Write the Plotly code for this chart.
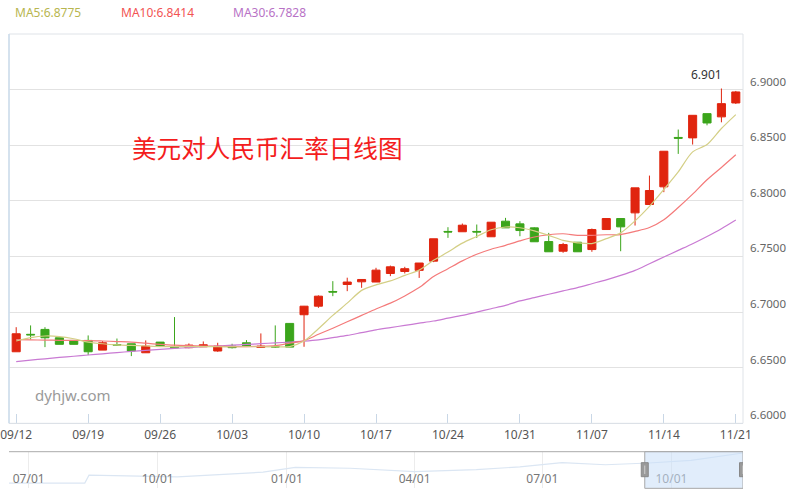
import plotly.graph_objects as go

# ---------------- data ----------------
tick_labels = ['09/12', '09/19', '09/26', '10/03', '10/10', '10/17', '10/24',
               '10/31', '11/07', '11/14', '11/21']

open_ = [6.6643, 6.6800, 6.6844, 6.6769, 6.6745, 6.6745, 6.6658, 6.6708, 6.6715, 6.6634,
         6.6730, 6.6688, 6.6680, 6.6688, 6.6650, 6.6694, 6.6724, 6.6682, 6.6690, 6.6898,
         6.6976, 6.7053, 6.7185, 6.7248, 6.7272, 6.7270, 6.7347, 6.7365, 6.7375, 6.7458,
         6.7725, 6.7722, 6.7725, 6.7677, 6.7817, 6.7793, 6.7757, 6.7634, 6.7547, 6.7628,
         6.7562, 6.7742, 6.7841, 6.7892, 6.7967, 6.8126, 6.8570, 6.8566, 6.8784, 6.8755,
         6.8880]
high = [6.6864, 6.6880, 6.6864, 6.6769, 6.6745, 6.6790, 6.6740, 6.6762, 6.6715, 6.6745,
        6.6730, 6.6955, 6.6718, 6.6736, 6.6724, 6.6715, 6.6748, 6.6808, 6.6880, 6.6900,
        6.7055, 6.7150, 6.7278, 6.7309, 6.7295, 6.7398, 6.7418, 6.7407, 6.7441, 6.7659,
        6.7763, 6.7796, 6.7787, 6.7808, 6.7847, 6.7817, 6.7762, 6.7712, 6.7622, 6.7628,
        6.7751, 6.7841, 6.7841, 6.8117, 6.8227, 6.8446, 6.8641, 6.8769, 6.8784, 6.9010,
        6.8988]
low = [6.6643, 6.6754, 6.6685, 6.6710, 6.6709, 6.6613, 6.6658, 6.6700, 6.6604, 6.6634,
       6.6694, 6.6675, 6.6675, 6.6688, 6.6643, 6.6673, 6.6694, 6.6680, 6.6680, 6.6685,
       6.6688, 6.7038, 6.7143, 6.7188, 6.7218, 6.7270, 6.7323, 6.7347, 6.7307, 6.7449,
       6.7667, 6.7722, 6.7667, 6.7677, 6.7757, 6.7682, 6.7632, 6.7542, 6.7533, 6.7542,
       6.7542, 6.7742, 6.7547, 6.7778, 6.7967, 6.8078, 6.8422, 6.8506, 6.8679, 6.8706,
       6.8871]
close = [6.6805, 6.6795, 6.6769, 6.6710, 6.6710, 6.6643, 6.6724, 6.6704, 6.6650, 6.6694,
         6.6694, 6.6680, 6.6703, 6.6706, 6.6694, 6.6680, 6.6694, 6.6694, 6.6686, 6.6685,
         6.7053, 6.7143, 6.7180, 6.7270, 6.7293, 6.7377, 6.7407, 6.7390, 6.7441, 6.7659,
         6.7720, 6.7781, 6.7720, 6.7808, 6.7757, 6.7733, 6.7632, 6.7542, 6.7607, 6.7542,
         6.7742, 6.7841, 6.7766, 6.8117, 6.8093, 6.8446, 6.8563, 6.8769, 6.8700, 6.8874,
         6.8979]

ma5 = [6.6740, 6.6770, 6.6785, 6.6780, 6.6760, 6.6730, 6.6715, 6.6705, 6.6700, 6.6695,
       6.6690, 6.6690, 6.6690, 6.6690, 6.6688, 6.6688, 6.6688, 6.6688, 6.6688, 6.6690,
       6.6739, 6.6850, 6.6970, 6.7080, 6.7195, 6.7245, 6.7280, 6.7330, 6.7377, 6.7465,
       6.7540, 6.7620, 6.7680, 6.7740, 6.7765, 6.7758, 6.7730, 6.7690, 6.7645, 6.7623,
       6.7616, 6.7660, 6.7712, 6.7820, 6.7950, 6.8102, 6.8260, 6.8440, 6.8506, 6.8650,
       6.8775]
ma10 = [6.6752, 6.6750, 6.6748, 6.6746, 6.6745, 6.6744, 6.6740, 6.6735, 6.6730, 6.6720,
        6.6710, 6.6702, 6.6698, 6.6695, 6.6692, 6.6690, 6.6690, 6.6692, 6.6698, 6.6720,
        6.6743, 6.6800, 6.6855, 6.6913, 6.6970, 6.7028, 6.7080, 6.7145, 6.7220, 6.7320,
        6.7390, 6.7460, 6.7520, 6.7565, 6.7600, 6.7640, 6.7675, 6.7695, 6.7704, 6.7690,
        6.7690, 6.7695, 6.7697, 6.7725, 6.7760, 6.7830, 6.7940, 6.8060, 6.8190, 6.8300,
        6.8414]
ma30 = [6.6555, 6.6568, 6.6580, 6.6592, 6.6603, 6.6614, 6.6625, 6.6636, 6.6646, 6.6656,
        6.6665, 6.6673, 6.6681, 6.6688, 6.6695, 6.6702, 6.6709, 6.6716, 6.6723, 6.6730,
        6.6738, 6.6750, 6.6770, 6.6790, 6.6815, 6.6840, 6.6860, 6.6880, 6.6900, 6.6920,
        6.6945, 6.6970, 6.7000, 6.7030, 6.7060, 6.7100, 6.7130, 6.7160, 6.7190, 6.7220,
        6.7255, 6.7290, 6.7330, 6.7375, 6.7435, 6.7495, 6.7555, 6.7615, 6.7680, 6.7750,
        6.7828]

y_ticks = [6.60, 6.65, 6.70, 6.75, 6.80, 6.85, 6.90]

# navigator (overview) series
nav_dates = ['2015-06-17', '2015-08-10', '2015-08-13', '2015-10-15', '2015-12-15',
             '2016-01-07', '2016-02-15', '2016-04-01', '2016-05-15', '2016-06-15',
             '2016-07-15', '2016-08-15', '2016-09-15', '2016-10-15', '2016-11-21']
nav_values = [6.21, 6.21, 6.39, 6.35, 6.46, 6.57, 6.55, 6.47, 6.52, 6.58,
              6.68, 6.63, 6.67, 6.73, 6.90]
window_start = '2016-09-12'
window_end = '2016-11-21'

title_text = '美元对人民币汇率日线图'
watermark = 'dyhjw.com'

# ---------------- styles ----------------
RED = '#e0250f'
GREEN = '#3ba51b'
FONT = 'Noto Sans'

x = list(range(len(open_)))
tick_idx = list(range(0, len(open_), 5))

fig = go.Figure()

fig.add_trace(go.Candlestick(
    x=x, open=open_, high=high, low=low, close=close,
    increasing=dict(line=dict(color=RED, width=1), fillcolor=RED),
    decreasing=dict(line=dict(color=GREEN, width=1), fillcolor=GREEN),
    whiskerwidth=0, showlegend=False, hoverinfo='skip',
    xaxis='x', yaxis='y'))

for vals, col in [(ma30, '#c97ad3'), (ma10, '#f47a7a'), (ma5, '#d4cf86')]:
    fig.add_trace(go.Scatter(x=x, y=vals, mode='lines',
                             line=dict(color=col, width=1.2, shape='spline', smoothing=0.8),
                             showlegend=False, hoverinfo='skip', xaxis='x', yaxis='y'))

fig.add_trace(go.Scatter(x=nav_dates, y=nav_values, mode='lines',
                         line=dict(color='#dbe6f3', width=1.2),
                         showlegend=False, hoverinfo='skip', xaxis='x2', yaxis='y2'))

fig.update_layout(
    width=800, height=492,
    margin=dict(l=4, r=57, t=34, b=0),
    paper_bgcolor='white', plot_bgcolor='white',
    showlegend=False,
    boxgap=0.2, boxgroupgap=0.3,
    font=dict(family=FONT, size=12, color='#666'),
    xaxis=dict(domain=[0, 1], anchor='y', range=[-0.5, len(open_) - 0.5],
               tickvals=tick_idx, ticktext=tick_labels,
               ticks='inside', ticklen=9, tickcolor='#c9d7e6', tickwidth=1,
               ticklabeloverflow='allow',
               showgrid=False, zeroline=False, showline=True, linecolor='#cfd9e4',
               rangeslider=dict(visible=False),
               tickfont=dict(size=12, color='#555', family=FONT)),
    yaxis=dict(domain=[0.15, 1], anchor='x', range=[6.60, 6.95], side='right',
               tickvals=y_ticks, ticktext=['%.4f' % v for v in y_ticks],
               ticklabelposition='outside top', ticks='', ticklabelstandoff=6,
               ticklabeloverflow='allow',
               showgrid=True, gridcolor='#e2e2e2', gridwidth=1, zeroline=False,
               showline=False,
               tickfont=dict(size=11.5, color='#666', family=FONT)),
    xaxis2=dict(domain=[0, 1], anchor='y2', type='date',
                range=['2015-06-17', '2016-11-21'],
                tick0='2015-07-01', dtick='M3', tickformat='%m/%d',
                ticklabelposition='inside', ticks='', showgrid=True,
                ticklabeloverflow='allow',
                gridcolor='#ececec', zeroline=False, showline=False,
                tickfont=dict(size=12, color='#777', family=FONT)),
    yaxis2=dict(domain=[0.008, 0.088], anchor='x2', range=[6.088, 6.93],
                visible=False, showgrid=False, zeroline=False),
)

shapes = [
    # main frame
    dict(type='rect', xref='paper', yref='y domain', x0=0, x1=1, y0=0, y1=1,
         line=dict(color='#dfe3e8', width=1), layer='above'),
    dict(type='line', xref='paper', yref='y domain', x0=0, x1=0, y0=0, y1=1,
         line=dict(color='#cddcec', width=1.5), layer='above'),
    # navigator top line
    dict(type='line', xref='paper', yref='y2 domain', x0=0, x1=1, y0=1, y1=1,
         line=dict(color='#aaaaaa', width=1)),
    # selected window
    dict(type='rect', xref='x2', yref='y2 domain', x0=window_start, x1=window_end,
         y0=0, y1=1, fillcolor='rgba(200,222,248,0.55)',
         line=dict(color='#a8a8a8', width=1), layer='above'),
]
for d in (window_start, window_end):
    shapes.append(dict(type='rect', xref='x2', yref='paper', xsizemode='pixel',
                       xanchor=d, x0=-3.5, x1=3.5,
                       y0=(492 - 476.7) / 458, y1=(492 - 462.7) / 458,
                       fillcolor='#9a9a9a', line=dict(color='#888', width=1),
                       layer='above'))
    shapes.append(dict(type='line', xref='x2', yref='paper', xsizemode='pixel',
                       xanchor=d, x0=0, x1=0,
                       y0=(492 - 474) / 458, y1=(492 - 465.5) / 458,
                       line=dict(color='#cfcfcf', width=1), layer='above'))
fig.update_layout(shapes=shapes)

def px_x(p):
    return (p - 4) / 739.0

def px_y(p):
    return (492 - p) / 458.0

ann = [
    dict(text='MA5:%.4f' % ma5[-1], x=px_x(8), y=px_y(12), xanchor='left', yanchor='middle',
         font=dict(size=12, color='#b8b650', family=FONT)),
    dict(text='MA10:%.4f' % ma10[-1], x=px_x(115), y=px_y(12), xanchor='left', yanchor='middle',
         font=dict(size=12, color='#f25353', family=FONT)),
    dict(text='MA30:%.4f' % ma30[-1], x=px_x(228), y=px_y(12), xanchor='left', yanchor='middle',
         font=dict(size=12, color='#b872c6', family=FONT)),
    dict(text=title_text, x=px_x(126), y=px_y(147), xanchor='left', yanchor='middle',
         font=dict(size=24.6, color='#f41d1d', family='Noto Sans CJK SC')),
    dict(text=watermark, x=px_x(28), y=px_y(395), xanchor='left', yanchor='middle',
         font=dict(size=15, color='#9a9a9a', family=FONT)),
]
for a in ann:
    a.update(xref='paper', yref='paper', showarrow=False)

imax = max(range(len(high)), key=lambda i: high[i])
ann.append(dict(text='%.3f' % high[imax], x=imax, y=high[imax], xref='x', yref='y',
                xanchor='right', yanchor='bottom', xshift=3, yshift=4, showarrow=False,
                font=dict(size=12, color='#333', family=FONT)))
fig.update_layout(annotations=ann)

fig.write_html('out.html', config={'displayModeBar': False},
               post_script="document.body.style.margin='0px';document.body.style.overflow='hidden';")
